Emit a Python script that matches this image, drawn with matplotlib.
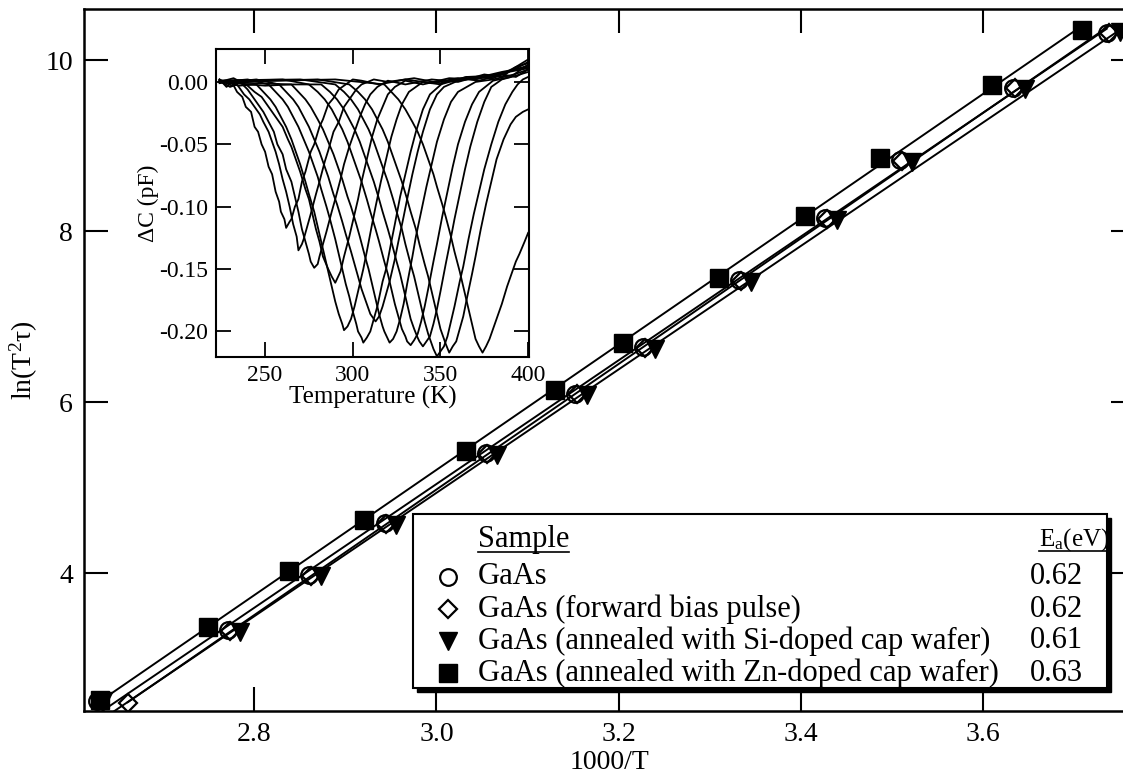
import numpy as np
import matplotlib
matplotlib.use("Agg")
import matplotlib.pyplot as plt
from matplotlib.patches import Rectangle

plt.rcParams['font.family'] = ['Liberation Serif', 'DejaVu Serif']
plt.rcParams['mathtext.fontset'] = 'custom'
plt.rcParams['mathtext.rm'] = 'Liberation Serif'
plt.rcParams['mathtext.it'] = 'Liberation Serif:italic'
plt.rcParams['axes.unicode_minus'] = False

# Arrhenius points: x = 1000/T, y = ln(T^2 tau)
x_gaas = [2.627, 2.771, 2.860, 2.943, 3.054, 3.152, 3.227, 3.332, 3.427, 3.509, 3.633, 3.736]
y_gaas = [2.50, 3.33, 3.98, 4.58, 5.40, 6.10, 6.64, 7.43, 8.15, 8.83, 9.68, 10.32]
x_fb = [2.661, 2.773, 2.862, 2.945, 3.056, 3.154, 3.229, 3.334, 3.429, 3.511, 3.635, 3.738]
y_fb = [2.48, 3.32, 3.97, 4.57, 5.39, 6.09, 6.63, 7.42, 8.14, 8.82, 9.67, 10.32]
x_si = [2.634, 2.784, 2.873, 2.956, 3.067, 3.165, 3.240, 3.345, 3.440, 3.522, 3.646, 3.750]
y_si = [2.50, 3.31, 3.96, 4.56, 5.38, 6.08, 6.62, 7.41, 8.13, 8.81, 9.66, 10.33]
x_zn = [2.631, 2.749, 2.838, 2.920, 3.032, 3.130, 3.205, 3.310, 3.405, 3.487, 3.610, 3.709]
y_zn = [2.52, 3.37, 4.02, 4.62, 5.43, 6.14, 6.69, 7.45, 8.18, 8.86, 9.71, 10.35]

samples = ['GaAs', 'GaAs (forward bias pulse)',
           'GaAs (annealed with Si-doped cap wafer)',
           'GaAs (annealed with Zn-doped cap wafer)']
ea_values = ['0.62', '0.62', '0.61', '0.63']

# inset DLTS spectra: temperature (K) and capacitance change (pF)
spec_T = [
    [224, 228, 231, 234, 237, 239, 242, 244, 246, 248, 250, 252, 254, 256, 258, 259, 261, 262, 264, 265, 267, 269, 271, 273, 276, 278, 281, 283, 286, 289, 292, 295, 300, 305, 315, 330, 345, 360, 372, 385, 393, 400],
    [224, 230, 234, 238, 241, 244, 247, 249, 252, 254, 256, 258, 260, 262, 264, 266, 268, 269, 271, 272, 274, 276, 279, 281, 284, 286, 289, 292, 295, 298, 302, 305, 312, 320, 335, 350, 365, 380, 390, 400],
    [224, 231, 235, 240, 243, 246, 249, 252, 255, 257, 260, 262, 265, 267, 269, 271, 273, 275, 276, 278, 280, 281, 283, 285, 288, 290, 293, 295, 298, 301, 304, 307, 310, 314, 320, 330, 345, 360, 375, 385, 393, 400],
    [224, 232, 240, 244, 248, 251, 254, 257, 260, 263, 265, 268, 270, 273, 275, 277, 279, 281, 283, 286, 288, 290, 291, 293, 295, 298, 300, 303, 305, 308, 311, 314, 317, 320, 324, 330, 340, 355, 370, 385, 400],
    [224, 235, 245, 249, 253, 256, 259, 262, 265, 268, 270, 273, 275, 278, 280, 282, 284, 286, 288, 290, 292, 294, 295, 297, 299, 301, 303, 306, 308, 311, 313, 316, 319, 322, 325, 328, 332, 340, 350, 365, 380, 392, 400],
    [224, 240, 252, 256, 260, 263, 266, 269, 272, 275, 277, 280, 282, 285, 287, 290, 292, 294, 296, 298, 300, 302, 303, 305, 306, 308, 310, 312, 314, 317, 319, 322, 324, 327, 330, 333, 336, 340, 344, 352, 360, 372, 385, 393, 400],
    [224, 245, 258, 262, 266, 269, 272, 275, 278, 281, 284, 286, 289, 291, 294, 296, 299, 301, 303, 305, 307, 309, 310, 312, 313, 315, 317, 319, 321, 324, 326, 329, 331, 334, 337, 340, 344, 348, 352, 360, 370, 385, 400],
    [224, 250, 265, 269, 273, 276, 280, 283, 286, 289, 292, 294, 297, 299, 302, 304, 307, 309, 311, 313, 315, 317, 318, 320, 321, 323, 325, 327, 329, 331, 334, 336, 339, 342, 345, 348, 352, 356, 360, 370, 380, 392, 400],
    [224, 260, 275, 280, 284, 288, 291, 294, 297, 300, 303, 305, 308, 310, 313, 315, 318, 320, 322, 324, 326, 328, 330, 331, 333, 335, 337, 339, 341, 343, 346, 348, 351, 354, 357, 360, 364, 368, 372, 380, 390, 400],
    [224, 265, 282, 287, 291, 295, 298, 301, 304, 307, 310, 312, 315, 317, 320, 322, 325, 327, 329, 331, 333, 335, 337, 338, 340, 342, 344, 346, 348, 350, 353, 355, 358, 361, 364, 367, 371, 375, 379, 385, 393, 400],
    [224, 270, 290, 295, 299, 303, 306, 309, 312, 315, 318, 320, 323, 325, 328, 330, 333, 335, 337, 339, 341, 343, 345, 346, 348, 350, 352, 354, 356, 358, 361, 363, 366, 369, 372, 375, 379, 383, 387, 391, 394, 397, 400],
    [224, 280, 298, 303, 307, 311, 314, 317, 320, 323, 326, 328, 331, 333, 336, 338, 341, 343, 345, 347, 349, 350, 352, 353, 355, 357, 359, 361, 363, 365, 368, 370, 373, 376, 379, 382, 386, 390, 393, 397, 400],
    [224, 290, 318, 322, 326, 330, 334, 337, 340, 343, 346, 348, 351, 353, 356, 358, 361, 363, 365, 367, 369, 370, 372, 374, 376, 378, 380, 383, 385, 388, 390, 393, 395, 398, 400],
]
spec_C = [
    [0.002, -0.004, 0.000, -0.008, -0.012, -0.020, -0.024, -0.036, -0.040, -0.050, -0.056, -0.068, -0.074, -0.088, -0.096, -0.104, -0.110, -0.117, -0.112, -0.110, -0.100, -0.094, -0.080, -0.072, -0.056, -0.050, -0.036, -0.030, -0.018, -0.013, -0.006, -0.003, 0.002, 0.001, -0.002, 0.002, -0.001, 0.003, 0.001, 0.006, 0.004, 0.010],
    [0.001, -0.004, -0.002, -0.010, -0.014, -0.020, -0.026, -0.032, -0.040, -0.048, -0.056, -0.066, -0.078, -0.088, -0.100, -0.114, -0.124, -0.135, -0.130, -0.126, -0.116, -0.106, -0.090, -0.080, -0.064, -0.055, -0.040, -0.032, -0.020, -0.014, -0.006, -0.002, 0.002, 0.000, 0.003, -0.001, 0.004, 0.005, 0.009, 0.013],
    [0.002, -0.003, 0.001, -0.006, -0.012, -0.018, -0.024, -0.032, -0.040, -0.050, -0.058, -0.070, -0.080, -0.092, -0.104, -0.118, -0.128, -0.138, -0.144, -0.149, -0.146, -0.140, -0.130, -0.120, -0.104, -0.094, -0.078, -0.066, -0.052, -0.040, -0.028, -0.018, -0.010, -0.004, 0.001, -0.002, 0.002, 0.000, 0.006, 0.004, 0.012, 0.015],
    [0.000, 0.003, -0.003, -0.008, -0.012, -0.018, -0.024, -0.030, -0.036, -0.046, -0.052, -0.064, -0.072, -0.086, -0.094, -0.106, -0.118, -0.128, -0.140, -0.150, -0.156, -0.161, -0.158, -0.152, -0.140, -0.124, -0.112, -0.094, -0.080, -0.062, -0.044, -0.030, -0.020, -0.010, -0.004, 0.001, -0.002, 0.003, 0.002, 0.007, 0.011],
    [0.001, -0.003, -0.002, -0.008, -0.014, -0.020, -0.028, -0.036, -0.046, -0.058, -0.066, -0.080, -0.090, -0.104, -0.116, -0.128, -0.140, -0.152, -0.164, -0.176, -0.186, -0.194, -0.199, -0.196, -0.190, -0.180, -0.168, -0.150, -0.136, -0.114, -0.100, -0.080, -0.062, -0.044, -0.030, -0.018, -0.008, 0.000, -0.002, 0.004, 0.003, 0.010, 0.016],
    [0.000, 0.002, -0.002, -0.008, -0.014, -0.020, -0.028, -0.036, -0.046, -0.056, -0.064, -0.076, -0.086, -0.100, -0.110, -0.126, -0.138, -0.150, -0.162, -0.172, -0.184, -0.194, -0.200, -0.205, -0.209, -0.205, -0.200, -0.190, -0.180, -0.160, -0.150, -0.128, -0.114, -0.092, -0.074, -0.056, -0.040, -0.022, -0.010, 0.000, 0.001, 0.004, 0.006, 0.012, 0.018],
    [-0.001, 0.002, -0.002, -0.008, -0.014, -0.020, -0.028, -0.036, -0.046, -0.056, -0.068, -0.076, -0.090, -0.098, -0.112, -0.122, -0.136, -0.146, -0.156, -0.166, -0.174, -0.182, -0.186, -0.190, -0.192, -0.188, -0.180, -0.170, -0.160, -0.142, -0.128, -0.108, -0.094, -0.074, -0.056, -0.040, -0.022, -0.010, -0.004, 0.001, 0.003, 0.008, 0.012],
    [0.000, -0.003, -0.002, -0.008, -0.014, -0.020, -0.030, -0.038, -0.048, -0.058, -0.070, -0.078, -0.092, -0.100, -0.114, -0.124, -0.140, -0.150, -0.162, -0.174, -0.186, -0.196, -0.200, -0.206, -0.209, -0.206, -0.200, -0.190, -0.178, -0.162, -0.140, -0.124, -0.104, -0.084, -0.066, -0.048, -0.030, -0.016, -0.008, 0.000, 0.002, 0.006, 0.010],
    [0.001, 0.002, -0.002, -0.008, -0.014, -0.022, -0.030, -0.038, -0.048, -0.060, -0.072, -0.080, -0.094, -0.104, -0.118, -0.128, -0.144, -0.154, -0.166, -0.178, -0.188, -0.198, -0.204, -0.208, -0.211, -0.207, -0.202, -0.192, -0.180, -0.166, -0.144, -0.130, -0.108, -0.088, -0.068, -0.050, -0.032, -0.018, -0.008, 0.001, 0.004, 0.014],
    [0.000, -0.002, -0.002, -0.008, -0.014, -0.022, -0.030, -0.038, -0.048, -0.060, -0.072, -0.080, -0.094, -0.104, -0.118, -0.128, -0.144, -0.154, -0.166, -0.178, -0.190, -0.198, -0.205, -0.208, -0.212, -0.208, -0.204, -0.194, -0.182, -0.168, -0.146, -0.132, -0.110, -0.090, -0.070, -0.052, -0.032, -0.016, -0.004, 0.002, 0.005, 0.008],
    [0.001, 0.002, -0.002, -0.008, -0.014, -0.022, -0.030, -0.038, -0.048, -0.060, -0.072, -0.080, -0.094, -0.104, -0.118, -0.130, -0.146, -0.156, -0.168, -0.180, -0.192, -0.202, -0.210, -0.214, -0.220, -0.216, -0.212, -0.204, -0.192, -0.180, -0.160, -0.148, -0.126, -0.106, -0.088, -0.070, -0.050, -0.032, -0.018, -0.008, -0.002, 0.002, 0.004],
    [0.000, 0.002, -0.002, -0.008, -0.014, -0.022, -0.030, -0.038, -0.048, -0.060, -0.072, -0.080, -0.094, -0.104, -0.118, -0.130, -0.146, -0.156, -0.168, -0.180, -0.192, -0.198, -0.206, -0.210, -0.217, -0.212, -0.208, -0.198, -0.188, -0.174, -0.154, -0.140, -0.118, -0.098, -0.080, -0.062, -0.046, -0.034, -0.028, -0.024, -0.022],
    [0.000, 0.002, -0.002, -0.008, -0.014, -0.022, -0.032, -0.040, -0.050, -0.062, -0.074, -0.084, -0.098, -0.108, -0.124, -0.136, -0.152, -0.164, -0.176, -0.188, -0.200, -0.206, -0.212, -0.217, -0.212, -0.206, -0.198, -0.186, -0.178, -0.164, -0.156, -0.144, -0.138, -0.128, -0.121],
]

fig = plt.figure(figsize=(11.23, 7.74), dpi=100)
ax = fig.add_axes([84 / 1123, 1 - 711 / 774, (1135 - 84) / 1123, (711 - 9) / 774])

series = [
    (x_gaas, y_gaas, dict(marker='o', ms=12, mfc='none', mec='black', mew=1.6)),
    (x_fb, y_fb, dict(marker='D', ms=9, mfc='none', mec='black', mew=1.6)),
    (x_si, y_si, dict(marker='v', ms=13, mfc='black', mec='black')),
    (x_zn, y_zn, dict(marker='s', ms=13, mfc='black', mec='black')),
]
# straight-line fits for each sample
for xs, ys, style in series:
    xs = np.array(xs)
    p = np.polyfit(xs, ys, 1)
    ax.plot([xs.min(), xs.max()], np.polyval(p, [xs.min(), xs.max()]), color='black', lw=1.4, zorder=2)
for xs, ys, style in series:
    ax.plot(xs, ys, ls='none', zorder=3, **style)

ax.set_xlim(2.613, 3.767)
ax.set_ylim(2.386, 10.6)
ax.set_xticks([2.8, 3.0, 3.2, 3.4, 3.6])
ax.set_xticklabels(['2.8', '3.0', '3.2', '3.4', '3.6'])
ax.set_yticks([4, 6, 8, 10])
ax.tick_params(direction='in', length=17, width=1.5, top=True, right=True, labelsize=20, pad=8)
for s in ax.spines.values():
    s.set_linewidth(1.8)
ax.set_xlabel('1000/T', fontsize=20, labelpad=2)
ax.set_ylabel(r'ln(T$^2$τ)', fontsize=20, labelpad=4)

# legend box drawn in axes fraction
bx0, by0, bx1, by1 = 0.313, 0.033, 0.973, 0.281
shadow = Rectangle((bx0 + 0.004, by0 - 0.006), bx1 - bx0, by1 - by0, transform=ax.transAxes,
                   facecolor='black', edgecolor='black', zorder=5)
box = Rectangle((bx0, by0), bx1 - bx0, by1 - by0, transform=ax.transAxes,
                facecolor='white', edgecolor='black', lw=1.5, zorder=6)
ax.add_patch(shadow)
ax.add_patch(box)
row_y = [0.191, 0.145, 0.100, 0.054]
for (xs, ys, style), name, ea, ry in zip(series, samples, ea_values, row_y):
    ax.plot([0.3463], [ry], transform=ax.transAxes, ls='none', zorder=7, clip_on=False, **style)
    ax.text(0.3749, ry, name, transform=ax.transAxes, fontsize=22, va='center', zorder=7)
    ax.text(0.9505, ry, ea, transform=ax.transAxes, fontsize=22, va='center', ha='right', zorder=7)
head_sample = ax.text(0.3749, 0.244, 'Sample', transform=ax.transAxes, fontsize=22, va='center', zorder=7)
head_ea = ax.text(0.9085, 0.244, r'E$_\mathrm{a}$(eV)', transform=ax.transAxes, fontsize=18, va='center', zorder=7)

# inset with DLTS spectra
ins = fig.add_axes([216 / 1123, 1 - 357 / 774, (529 - 216) / 1123, (357 - 49) / 774])
for ts, cs in zip(spec_T, spec_C):
    ins.plot(ts, cs, color='black', lw=1.3)
ins.set_xlim(222, 400.5)
ins.set_ylim(-0.2205, 0.0264)
ins.set_xticks([250, 300, 350, 400])
ins.set_yticks([0.0, -0.05, -0.10, -0.15, -0.20])
ins.set_yticklabels(['0.00', '-0.05', '-0.10', '-0.15', '-0.20'])
ins.tick_params(direction='in', length=11, width=1.3, top=True, right=True, labelsize=17, pad=6)
for s in ins.spines.values():
    s.set_linewidth(1.5)
ins.set_xlabel('Temperature (K)', fontsize=18, labelpad=0)
ins.set_ylabel('ΔC (pF)', fontsize=17, labelpad=0)

# underline legend headers
fig.canvas.draw()
r = fig.canvas.get_renderer()
inv = fig.transFigure.inverted()
for t in (head_sample, head_ea):
    bb = t.get_window_extent(r)
    (x0, y0), (x1, _) = inv.transform([(bb.x0, bb.y0 + 2), (bb.x1, bb.y0 + 2)])
    fig.add_artist(plt.Line2D([x0, x1], [y0, y0], transform=fig.transFigure, color='black', lw=1.2, zorder=8))

fig.savefig('out.png', dpi=100)
